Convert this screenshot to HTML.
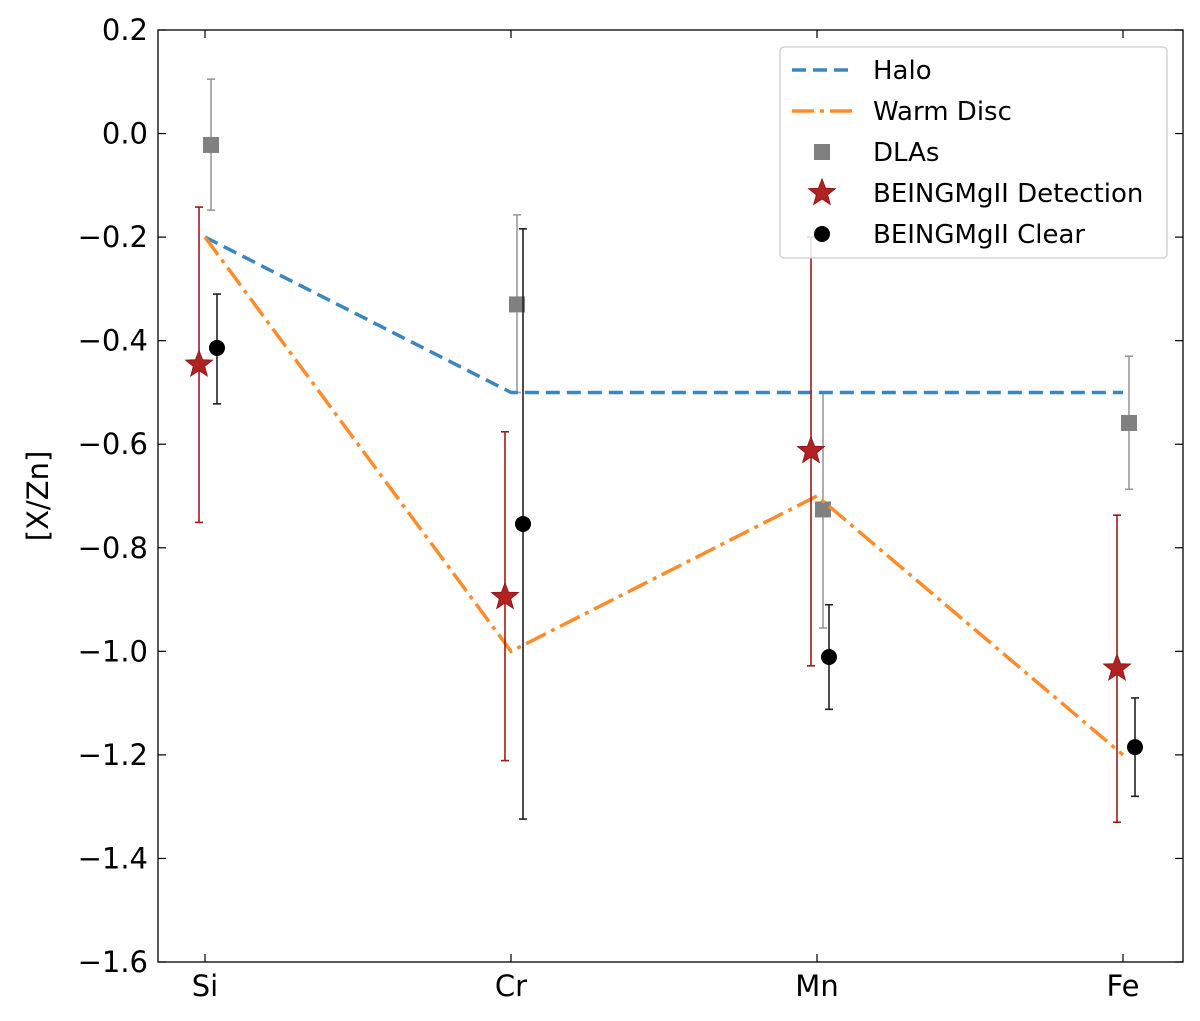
<!DOCTYPE html>
<html><head><meta charset="utf-8"><style>
body{margin:0;background:#fff;}
svg{display:block;font-family:"DejaVu Sans","Liberation Sans",sans-serif;}
</style></head><body>
<svg id="chart" width="1200" height="1021" viewBox="0 0 1200 1021">
<g id="axes"></g><g id="marks"></g><g id="legend"></g>
</svg>
<script>
const categories=["Si","Cr","Mn","Fe"];
const haloValues=[-0.2,-0.5,-0.5,-0.5];
const warmDiscValues=[-0.2,-1.0,-0.7,-1.2];
const dlaValues=[-0.022,-0.33,-0.726,-0.559];
const dlaErrLow=[-0.148,-0.5,-0.955,-0.687];
const dlaErrHigh=[0.105,-0.157,-0.5,-0.43];
const detValues=[-0.446,-0.895,-0.613,-1.033];
const detErrLow=[-0.751,-1.211,-1.028,-1.33];
const detErrHigh=[-0.142,-0.576,-0.2,-0.737];
const clearValues=[-0.414,-0.754,-1.011,-1.185];
const clearErrLow=[-0.522,-1.324,-1.112,-1.28];
const clearErrHigh=[-0.31,-0.184,-0.91,-1.09];
const yTicks=[0.2,0.0,-0.2,-0.4,-0.6,-0.8,-1.0,-1.2,-1.4,-1.6];

const L=158,R=1183,T=30,B=962;
const yMin=-1.6,yMax=0.2;
function y(v){return B-(v-yMin)/(yMax-yMin)*(B-T);}
function x(i){return 205+i*306;}
const NS="http://www.w3.org/2000/svg";
function mk(tag,attrs,parent){const e=document.createElementNS(NS,tag);for(const k in attrs)e.setAttribute(k,attrs[k]);parent.appendChild(e);return e;}
const axes=document.getElementById('axes'),marks=document.getElementById('marks'),leg=document.getElementById('legend');

const frame=mk('rect',{x:L,y:T,width:R-L,height:B-T,fill:'none',stroke:'#000','stroke-width':1.3},axes);


yTicks.forEach(v=>{
  const t=mk('line',{x1:L,x2:L+8,y1:y(v),y2:y(v),stroke:'#000','stroke-width':1.2},axes);
  
  
  const t2=mk('line',{x1:R,x2:R-8,y1:y(v),y2:y(v),stroke:'#000','stroke-width':1.2},axes);
  
  
  const lb=mk('text',{x:L-10,y:y(v)+10,'text-anchor':'end','font-size':29},axes);
  lb.textContent=(v<0?'\u22121':'')+'';
  lb.textContent=(v<0?'\u2212':'')+Math.abs(v).toFixed(1);
  
  
});
categories.forEach((c,i)=>{
  const t=mk('line',{x1:x(i),x2:x(i),y1:B,y2:B-8,stroke:'#000','stroke-width':1.2},axes);
  
  
  const t2=mk('line',{x1:x(i),x2:x(i),y1:T,y2:T+8,stroke:'#000','stroke-width':1.2},axes);
  
  
  const lb=mk('text',{x:x(i),y:996,'text-anchor':'middle','font-size':29},axes);
  lb.textContent=c;
  
  
});
const yt=mk('text',{x:0,y:0,transform:'translate(48,496) rotate(-90)','text-anchor':'middle','font-size':29},axes);
yt.textContent='[X/Zn]';



function errbar(i,off,lo,hi,col,name){
  const cx=x(i)+off;
  const g=mk('g',{stroke:col,'stroke-width':1.6},marks);
  
  
  mk('line',{x1:cx,x2:cx,y1:y(lo),y2:y(hi)},g);
  mk('line',{x1:cx-4,x2:cx+4,y1:y(lo),y2:y(lo)},g);
  mk('line',{x1:cx-4,x2:cx+4,y1:y(hi),y2:y(hi)},g);
}
categories.forEach((c,i)=>{
  errbar(i,6,dlaErrLow[i],dlaErrHigh[i],'#9a9a9a','dla-errorbar');
  const s=mk('rect',{x:x(i)+6-8,y:y(dlaValues[i])-8,width:16,height:16,fill:'#808080'},marks);
  
  
});
function lineSeries(vals,col,dash,name){
  const p=mk('polyline',{points:vals.map((v,i)=>x(i)+','+y(v)).join(' '),fill:'none',stroke:col,'stroke-width':3.5,'stroke-dasharray':dash},marks);
  
  
}
lineSeries(haloValues,'#3a87c0','14,7','halo-line');
lineSeries(warmDiscValues,'#ff8c2a','22,6,4,6','warm-disc-line');
function starPath(cx,cy,r){let d='';for(let k=0;k<10;k++){const rr=k%2?r*0.42:r;const a=-Math.PI/2+k*Math.PI/5;d+=(k?'L':'M')+(cx+rr*Math.cos(a)).toFixed(1)+','+(cy+rr*Math.sin(a)).toFixed(1);}return d+'Z';}
categories.forEach((c,i)=>{
  errbar(i,-6,detErrLow[i],detErrHigh[i],'#a01818','detection-errorbar');
  const s=mk('path',{d:starPath(x(i)-6,y(detValues[i]),14),fill:'#b22222',stroke:'#8b1a1a','stroke-width':1},marks);
  
  
  errbar(i,12,clearErrLow[i],clearErrHigh[i],'#222','clear-errorbar');
  const ci=mk('circle',{cx:x(i)+12,cy:y(clearValues[i]),r:8,fill:'#000'},marks);
  
  
});
// legend
const lb=mk('rect',{x:780,y:47,width:387,height:211,rx:4,fill:'rgba(255,255,255,0.85)',stroke:'#ccc','stroke-width':1.3},leg);


const items=[['Halo','halo'],['Warm Disc','warm'],['DLAs','dla'],['BEINGMgII Detection','det'],['BEINGMgII Clear','clear']];
items.forEach((it,k)=>{
  const yy=70+k*41;
  const g=mk('g',{},leg);
  
  
  if(it[1]=='halo')mk('line',{x1:792,x2:852,y1:yy,y2:yy,stroke:'#3a87c0','stroke-width':3.5,'stroke-dasharray':'14,7'},g);
  if(it[1]=='warm')mk('line',{x1:792,x2:852,y1:yy,y2:yy,stroke:'#ff8c2a','stroke-width':3.5,'stroke-dasharray':'22,6,4,6'},g);
  if(it[1]=='dla')mk('rect',{x:814,y:yy-8,width:16,height:16,fill:'#808080'},g);
  if(it[1]=='det')mk('path',{d:starPath(822,yy,14),fill:'#b22222',stroke:'#8b1a1a'},g);
  if(it[1]=='clear')mk('circle',{cx:822,cy:yy,r:8,fill:'#000'},g);
  const t=mk('text',{x:873,y:yy+9,'font-size':26},g);
  t.textContent=it[0];
});
</script>
</body></html>
